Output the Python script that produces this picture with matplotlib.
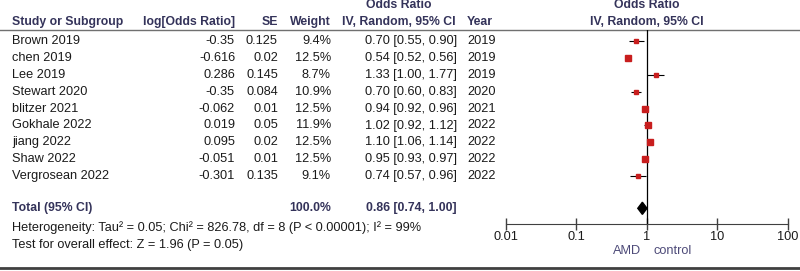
import numpy as np
import matplotlib.pyplot as plt

plt.rcParams['font.family'] = ['Liberation Sans', 'DejaVu Sans']

studies = ["Brown 2019", "chen 2019", "Lee 2019", "Stewart 2020", "blitzer 2021",
           "Gokhale 2022", "jiang 2022", "Shaw 2022", "Vergrosean 2022"]
log_or = ["-0.35", "-0.616", "0.286", "-0.35", "-0.062", "0.019", "0.095", "-0.051", "-0.301"]
se = ["0.125", "0.02", "0.145", "0.084", "0.01", "0.05", "0.02", "0.01", "0.135"]
weight = [9.4, 12.5, 8.7, 10.9, 12.5, 11.9, 12.5, 12.5, 9.1]
odds = [0.70, 0.54, 1.33, 0.70, 0.94, 1.02, 1.10, 0.95, 0.74]
lower = [0.55, 0.52, 1.00, 0.60, 0.92, 0.92, 1.06, 0.93, 0.57]
upper = [0.90, 0.56, 1.77, 0.83, 0.96, 1.12, 1.14, 0.97, 0.96]
years = ["2019", "2019", "2019", "2020", "2021", "2022", "2022", "2022", "2022"]

total_or, total_lo, total_hi = 0.86, 0.74, 1.00
total_weight = "100.0%"
het_text = "Heterogeneity: Tau² = 0.05; Chi² = 826.78, df = 8 (P < 0.00001); I² = 99%"
test_text = "Test for overall effect: Z = 1.96 (P = 0.05)"
ticks = [0.01, 0.1, 1, 10, 100]
tick_labels = ["0.01", "0.1", "1", "10", "100"]

W, H = 800, 271
fig = plt.figure(figsize=(W / 100, H / 100), dpi=100)

# text layer in pixel coordinates
bg = fig.add_axes([0, 0, 1, 1])
bg.set_xlim(0, W)
bg.set_ylim(H, 0)
bg.axis('off')

fs = 9.2
hdr = '#34335a'
txt = '#1a1a1a'
row0, step = 41, 16.9
total_idx = 10

def ypix(i):
    return row0 + step * i

# headers
bold = dict(fontsize=8.8, fontweight='bold', color=hdr, va='center')
bg.text(12, 22, "Study or Subgroup", ha='left', **bold)
bg.text(235, 22, "log[Odds Ratio]", ha='right', **bold)
bg.text(278, 22, "SE", ha='right', **bold)
bg.text(331, 22, "Weight", ha='right', **bold)
bg.text(399, 5, "Odds Ratio", ha='center', **bold)
bg.text(399, 22, "IV, Random, 95% CI", ha='center', **bold)
bg.text(467, 22, "Year", ha='left', **bold)
bg.text(647, 5, "Odds Ratio", ha='center', **bold)
bg.text(647, 22, "IV, Random, 95% CI", ha='center', **bold)

bg.plot([0, W], [30, 30], color='#707070', lw=1)
bg.plot([0, W], [268, 268], color='#404040', lw=2)

reg = dict(fontsize=fs, color=txt, va='center')
for i in range(len(studies)):
    y = ypix(i)
    bg.text(12, y, studies[i], ha='left', **reg)
    bg.text(235, y, log_or[i], ha='right', **reg)
    bg.text(278, y, se[i], ha='right', **reg)
    bg.text(331, y, f"{weight[i]:.1f}%", ha='right', **reg)
    bg.text(457, y, f"{odds[i]:.2f} [{lower[i]:.2f}, {upper[i]:.2f}]", ha='right', **reg)
    bg.text(467, y, years[i], ha='left', **reg)

yt = ypix(total_idx) - 2
bg.text(12, yt, "Total (95% CI)", ha='left', **bold)
bg.text(331, yt, total_weight, ha='right', **bold)
bg.text(457, yt, f"{total_or:.2f} [{total_lo:.2f}, {total_hi:.2f}]", ha='right', **bold)
bg.text(12, 228, het_text, ha='left', **reg)
bg.text(12, 245, test_text, ha='left', **reg)

bg.text(641, 251, "AMD", ha='right', fontsize=fs, color='#4d4a78', va='center')
bg.text(653, 251, "control", ha='left', fontsize=fs, color='#4d4a78', va='center')

# forest panel
left, right, top, bottom = 506, 788, 30, 224
ax = fig.add_axes([left / W, 1 - bottom / H, (right - left) / W, (bottom - top) / H])
ax.set_xscale('log')
ax.set_xlim(0.01, 100)
ax.set_ylim((bottom - row0) / step, (top - row0) / step)
ax.patch.set_alpha(0)
for s in ['top', 'right', 'left']:
    ax.spines[s].set_visible(False)
ax.spines['bottom'].set_color('#404040')
ax.set_yticks([])
ax.set_xticks(ticks)
ax.set_xticklabels(tick_labels)
ax.minorticks_off()
ax.tick_params(axis='x', direction='inout', length=8, width=1, color='#404040',
               labelsize=fs, labelcolor=txt, pad=1)
ax.axvline(1, color='black', lw=0.9)

ypos = np.arange(len(studies))
ax.hlines(ypos, lower, upper, color='black', lw=0.8)
for i in range(len(studies)):
    ax.plot(odds[i], ypos[i], 's', color='#c81e1e', mec='#c81e1e',
            ms=3.8 * np.sqrt(weight[i] / 12.5))

h = 0.36
ax.fill([total_lo, total_or, total_hi, total_or],
        [total_idx - 0.1, total_idx - 0.1 - h, total_idx - 0.1, total_idx - 0.1 + h],
        color='black')

fig.savefig("out.png", dpi=100)
